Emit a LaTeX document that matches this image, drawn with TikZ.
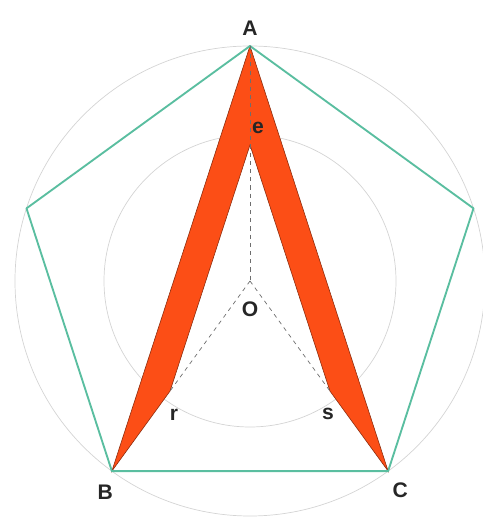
\documentclass[tikz,border=0pt]{standalone}
\usepackage{fontspec}
\setmainfont{Liberation Sans}
\usepackage{tikz}
\usetikzlibrary{calc}
\definecolor{edgecolor}{RGB}{90,190,160}
\definecolor{bandcolor}{RGB}{252,78,22}
\definecolor{ringcolor}{RGB}{212,212,212}
\definecolor{guidecolor}{RGB}{110,110,110}
\tikzset{
  pent side/.style={
    draw=edgecolor,
    line width=1.6pt,
    line join=round
  },
  ring/.style={
    draw=ringcolor,
    line width=0.6pt
  },
  band/.style={
    fill=bandcolor,
    draw=bandcolor!55!black,
    line width=0.5pt
  },
  guide/.style={
    draw=guidecolor,
    line width=0.6pt,
    dash pattern=on 3.5pt off 3.5pt
  },
  pt label/.style={
    font=\fontsize{18}{20}\selectfont\bfseries,
    text=black!85,
    inner sep=1pt
  }
}

\begin{document}
\begin{tikzpicture}

  \useasboundingbox (-7.5,-7.08) rectangle (6.96,8.43);

  % Centre and the two rings
  \coordinate (O) at (0,0);
  \draw[ring] (O) circle (7.05);
  \draw[ring] (O) circle (4.38);

  % Pentagon corners
  \coordinate (A) at (90:7.05);
  \coordinate (P2) at (18:7.05);
  \coordinate (C) at (-54:7.05);
  \coordinate (B) at (234:7.05);
  \coordinate (P5) at (162:7.05);

  % Inner points
  \coordinate (e) at (90:4.08);
  \coordinate (r) at (234:4.08);
  \coordinate (s) at (-54:4.08);

  % Red band
  \draw[band] (A) -- (B) -- (r) -- (e) -- (s) -- (C) -- cycle;

  % Pentagon
  \draw[pent side] (A) -- (P2) -- (C) -- (B) -- (P5) -- cycle;

  % Dashed guides
  \draw[guide] (A) -- (O);
  \draw[guide] (O) -- (r);
  \draw[guide] (O) -- (s);

  % Labels
  \node[pt label] (labA) at ($(A)+(0,0.52)$) {A};
  \node[pt label] (labB) at ($(B)+(-0.2,-0.64)$) {B};
  \node[pt label] (labC) at ($(C)+(0.36,-0.58)$) {C};
  \node[pt label] (labO) at ($(O)+(0,-0.85)$) {O};
  \node[pt label] (labe) at ($(e)+(0.24,0.5)$) {e};
  \node[pt label] (labr) at ($(r)+(0.12,-0.72)$) {r};
  \node[pt label] (labs) at ($(s)+(-0.06,-0.7)$) {s};

\end{tikzpicture}
\end{document}
